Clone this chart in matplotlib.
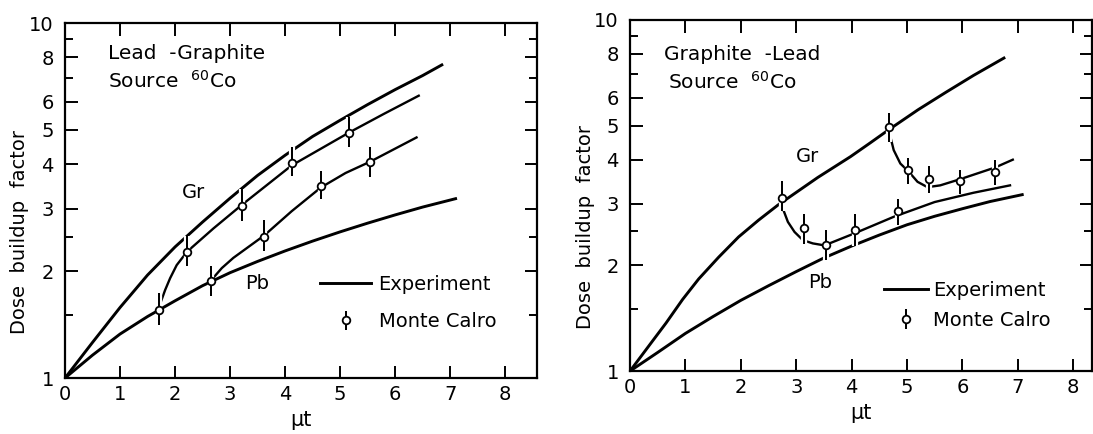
import matplotlib
matplotlib.use('Agg')
import matplotlib.pyplot as plt
import matplotlib.patheffects as pe
from matplotlib.lines import Line2D
from matplotlib.ticker import FixedLocator, FixedFormatter, NullFormatter

# Sumbu
x_ticks = [0, 1, 2, 3, 4, 5, 6, 7, 8]
y_ticks = [1, 2, 3, 4, 5, 6, 8, 10]
y_tick_labels = ['1', '2', '3', '4', '5', '6', '8', '10']
y_minor = [1.5, 2.5, 7, 9]

# Panel kiri : Lead - Graphite (experiment)
gr1_x = [0, 0.5, 1, 1.5, 2, 2.5, 3, 3.5, 4, 4.5, 5, 5.5, 6, 6.5, 6.85]
gr1_y = [1, 1.26, 1.58, 1.95, 2.34, 2.75, 3.21, 3.72, 4.24, 4.79, 5.32, 5.89, 6.49, 7.11, 7.62]
pb1_x = [0, 0.5, 1, 1.5, 2, 2.5, 3, 3.5, 4, 4.5, 5, 5.5, 6, 6.5, 7.1]
pb1_y = [1, 1.16, 1.33, 1.49, 1.65, 1.82, 1.98, 2.13, 2.28, 2.43, 2.58, 2.73, 2.88, 3.03, 3.20]

# Panel kiri : Monte Carlo
mc1_x = [1.70, 2.22, 2.65, 3.21, 3.62, 4.12, 4.65, 5.17, 5.55]
mc1_y = [1.55, 2.27, 1.88, 3.05, 2.50, 4.03, 3.47, 4.89, 4.05]
mc1_hi = [1.74, 2.51, 2.07, 3.40, 2.79, 4.46, 3.83, 5.45, 4.46]
mc1_lo = [1.41, 2.07, 1.70, 2.77, 2.28, 3.71, 3.19, 4.46, 3.69]
mca1_x = [1.70, 1.73, 1.82, 1.91, 2.03, 2.22, 2.70, 3.21, 4.12, 5.17, 5.8, 6.43]
mca1_y = [1.55, 1.62, 1.77, 1.91, 2.08, 2.27, 2.64, 3.07, 3.97, 4.92, 5.55, 6.24]
mcb1_x = [2.65, 2.85, 3.06, 3.35, 3.62, 4.12, 4.65, 5.10, 5.55, 6.39]
mcb1_y = [1.88, 2.04, 2.18, 2.35, 2.52, 2.95, 3.44, 3.78, 4.07, 4.76]

# Panel kanan : Graphite - Lead (experiment)
gr2_x = [0, 0.41, 0.65, 0.95, 1.24, 1.60, 1.96, 2.32, 2.67, 3.39, 3.98, 4.34, 4.68, 5.2, 5.7, 6.2, 6.75]
gr2_y = [1, 1.22, 1.37, 1.60, 1.83, 2.11, 2.41, 2.69, 2.97, 3.56, 4.08, 4.47, 4.88, 5.55, 6.22, 6.95, 7.79]
pb2_x = [0, 0.5, 1, 1.5, 2, 2.5, 3, 3.5, 4, 4.5, 5, 5.5, 6, 6.5, 7.08]
pb2_y = [1, 1.13, 1.28, 1.43, 1.59, 1.75, 1.92, 2.10, 2.27, 2.44, 2.61, 2.76, 2.90, 3.04, 3.18]

# Panel kanan : Monte Carlo
mc2_x = [2.75, 3.14, 3.54, 4.06, 4.84, 4.68, 5.02, 5.39, 5.96, 6.59]
mc2_y = [3.11, 2.55, 2.28, 2.53, 2.85, 4.95, 3.73, 3.52, 3.47, 3.68]
mc2_hi = [3.47, 2.80, 2.52, 2.80, 3.10, 5.45, 4.05, 3.85, 3.75, 3.98]
mc2_lo = [2.85, 2.30, 2.07, 2.27, 2.60, 4.50, 3.42, 3.22, 3.20, 3.38]
mcc2_x = [2.75, 2.76, 2.85, 2.97, 3.12, 3.30, 3.51, 3.63, 4.06, 4.76, 5.5, 6.2, 6.86]
mcc2_y = [3.11, 2.90, 2.66, 2.49, 2.36, 2.31, 2.28, 2.32, 2.47, 2.75, 3.03, 3.22, 3.38]
mcd2_x = [4.68, 4.70, 4.76, 4.88, 5.03, 5.19, 5.37, 5.6, 5.96, 6.59, 6.91]
mcd2_y = [4.95, 4.65, 4.26, 3.90, 3.70, 3.46, 3.34, 3.38, 3.52, 3.80, 4.00]

halo = [pe.withStroke(linewidth=4.5, foreground='white')]


def atur_sumbu(ax, xmax):
    ax.set_yscale('log')
    ax.set_xlim(0, xmax)
    ax.set_ylim(1, 10)
    ax.yaxis.set_major_locator(FixedLocator(y_ticks))
    ax.yaxis.set_major_formatter(FixedFormatter(y_tick_labels))
    ax.yaxis.set_minor_locator(FixedLocator(y_minor))
    ax.yaxis.set_minor_formatter(NullFormatter())
    ax.set_xticks(x_ticks)
    ax.set_xticklabels([str(v) for v in x_ticks])
    ax.tick_params(which='both', direction='in', top=True, right=True,
                   width=1.4, labelsize=14)
    ax.tick_params(which='major', length=9)
    ax.tick_params(which='minor', length=6)
    ax.tick_params(axis='y', pad=8)
    ax.tick_params(axis='x', pad=5)
    for s in ax.spines.values():
        s.set_linewidth(1.6)
    ax.set_ylabel('Dose  buildup  factor', fontsize=14)
    ax.yaxis.set_label_coords(-0.076, 0.41)
    ax.set_xlabel('\u03bct', fontsize=15)


def gambar_mc(ax, x, y, lo, hi):
    yerr = [[b - a for a, b in zip(lo, y)], [b - a for a, b in zip(y, hi)]]
    eb = ax.errorbar(x, y, yerr=yerr, fmt='o', ms=5.5, mfc='white', mec='black',
                     mew=1.3, ecolor='black', elinewidth=1.3, capsize=0, zorder=4)
    eb[2][0].set_path_effects(halo + [pe.Normal()])
    return eb


fig = plt.figure(figsize=(10.93, 4.34), dpi=100)
ax1 = fig.add_axes([0.0595, 0.129, 0.4318, 0.818])
ax2 = fig.add_axes([0.5764, 0.145, 0.4227, 0.809])

# Panel kiri
atur_sumbu(ax1, 8.58)
ax1.plot(gr1_x, gr1_y, color='black', lw=2.1, zorder=2)
ax1.plot(pb1_x, pb1_y, color='black', lw=2.1, zorder=2)
ax1.plot(mca1_x, mca1_y, color='black', lw=1.7, zorder=2)
ax1.plot(mcb1_x, mcb1_y, color='black', lw=1.7, zorder=2)
eb1 = gambar_mc(ax1, mc1_x, mc1_y, mc1_lo, mc1_hi)
ax1.text(0.78, 8.18, 'Lead  -Graphite', fontsize=14.5, va='center')
ax1.text(0.78, 6.88, 'Source  $^{60}$Co', fontsize=14.5, va='center')
ax1.text(2.33, 3.33, 'Gr', fontsize=14, ha='center', va='center')
ax1.text(3.49, 1.85, 'Pb', fontsize=14, ha='center', va='center')
ax1.legend([Line2D([], [], color='black', lw=2.1), eb1], ['Experiment', 'Monte Calro'],
           loc='center left', bbox_to_anchor=(4.64, 1.626), bbox_transform=ax1.transData,
           frameon=False, fontsize=14, borderpad=0, borderaxespad=0,
           handlelength=2.6, handletextpad=0.4, labelspacing=0.95)

# Panel kanan
atur_sumbu(ax2, 8.34)
ax2.plot(gr2_x, gr2_y, color='black', lw=2.1, zorder=2)
ax2.plot(pb2_x, pb2_y, color='black', lw=2.1, zorder=2)
ax2.plot(mcc2_x, mcc2_y, color='black', lw=1.7, zorder=2)
ax2.plot(mcd2_x, mcd2_y, color='black', lw=1.7, zorder=2)
eb2 = gambar_mc(ax2, mc2_x, mc2_y, mc2_lo, mc2_hi)
ax2.text(0.62, 7.96, 'Graphite  -Lead', fontsize=14.5, va='center')
ax2.text(0.68, 6.68, 'Source  $^{60}$Co', fontsize=14.5, va='center')
ax2.text(3.21, 4.08, 'Gr', fontsize=14, ha='center', va='center')
ax2.text(3.43, 1.79, 'Pb', fontsize=14, ha='center', va='center')
ax2.legend([Line2D([], [], color='black', lw=2.1), eb2], ['Experiment', 'Monte Calro'],
           loc='center left', bbox_to_anchor=(4.58, 1.536), bbox_transform=ax2.transData,
           frameon=False, fontsize=14, borderpad=0, borderaxespad=0,
           handlelength=2.3, handletextpad=0.25, labelspacing=0.55)

fig.savefig('out.png', dpi=100)
